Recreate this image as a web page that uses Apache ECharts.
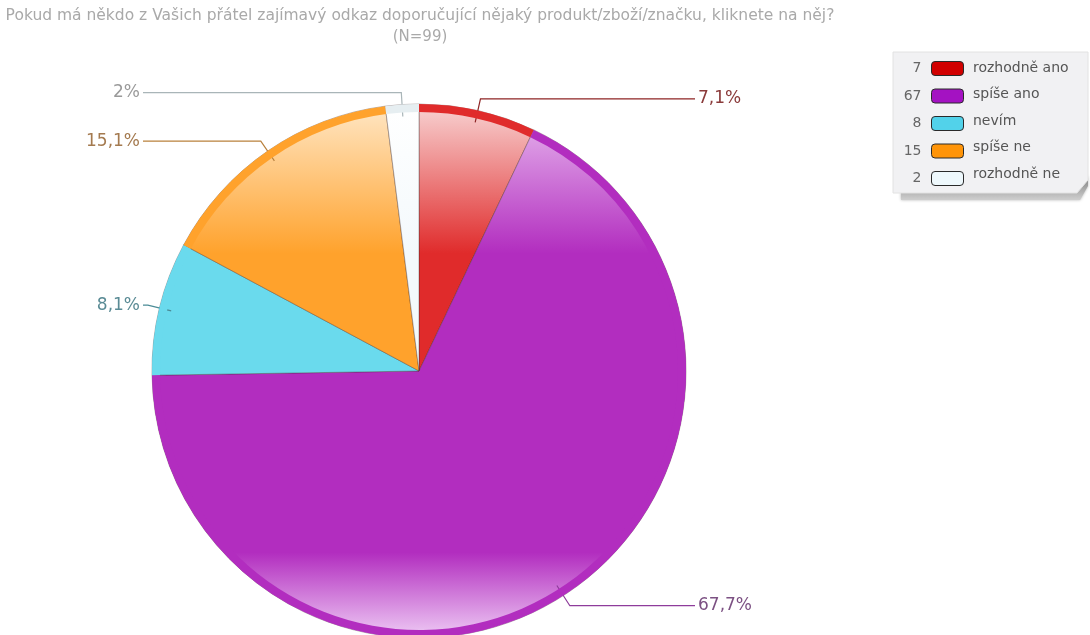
<!DOCTYPE html>
<html>
<head>
<meta charset="utf-8">
<style>
  html, body { margin: 0; padding: 0; background: #fff; }
  #chart { width: 1090px; height: 635px; }
</style>
<script src="https://cdn.jsdelivr.net/npm/echarts@6/dist/echarts.min.js"></script>
</head>
<body>
<div id="chart"></div>
<script>
// Survey answers (N = 99)
const categories = ['rozhodně ano', 'spíše ano', 'nevím', 'spíše ne', 'rozhodně ne'];
const counts = [7, 67, 8, 15, 2];
const percentLabels = ['7,1%', '67,7%', '8,1%', '15,1%', '2%'];

// Palette per answer: saturated, pale (glass highlight), legend swatch, label text, leader line
const fullColors  = ['#e02b2b', '#b22dbf', '#6adaed', '#ffa22c', '#f3f9fc'];
const paleColors  = ['#f8d3d3', '#e9bdf0', '#c9f1f8', '#ffe7c6', '#ffffff'];
const swatchColors = ['#d10000', '#a412c2', '#52d2ea', '#ff9408', '#eef8fc'];
const textColors  = ['#8a3a3a', '#7c5183', '#5a8b95', '#a47a4f', '#9a9a9a'];
const lineColors  = ['#8e2424', '#8e3c9b', '#4b8b96', '#b9813d', '#a9b5b8'];

const CX = 419, CY = 371, R = 267;
const RIM = 8;       // width of the saturated outer band
const INSET = 12;    // leader lines start a little inside the rim
const TAIL = 9;      // horizontal leader lines end at CX +/- (R + TAIL)

const chart = echarts.init(document.getElementById('chart'), null, { renderer: 'canvas' });

function glass(i) {
  return new echarts.graphic.LinearGradient(0, CY - R, 0, CY + R, [
    { offset: 0, color: paleColors[i] },
    { offset: 0.28, color: fullColors[i] },
    { offset: 0.84, color: fullColors[i] },
    { offset: 0.985, color: paleColors[i] },
    { offset: 1, color: paleColors[i] }
  ], true);
}

const mainData = categories.map((name, i) => ({
  name,
  value: counts[i],
  itemStyle: { color: glass(i) }
}));

const rimData = categories.map((name, i) => ({
  name,
  value: counts[i],
  itemStyle: { color: i === 4 ? '#e6eef1' : fullColors[i] },
  label: { color: textColors[i], formatter: percentLabels[i] },
  labelLine: { lineStyle: { color: lineColors[i] } }
}));

const font = 'DejaVu Sans, Verdana, sans-serif';

const option = {
  animation: false,
  backgroundColor: '#ffffff',
  title: {
    text: 'Pokud má někdo z Vašich přátel zajímavý odkaz doporučující nějaký produkt/zboží/značku, kliknete na něj?',
    subtext: '(N=99)',
    left: CX - 4,
    top: 2,
    textAlign: 'center',
    itemGap: 5,
    textStyle: { fontFamily: font, fontSize: 15.5, fontWeight: 'normal', color: '#a9a9a9', lineHeight: 17 },
    subtextStyle: { fontFamily: font, fontSize: 15, color: '#a9a9a9', lineHeight: 17 }
  },
  legend: [
    {
      // counts with the colour swatch to their right
      orient: 'vertical',
      align: 'right',
      right: 126,
      top: 61,
      padding: 0,
      itemWidth: 32,
      itemHeight: 14,
      itemGap: 12.5,
      icon: 'roundRect',
      selectedMode: false,
      data: categories.map((name, i) => ({
        name,
        itemStyle: { color: swatchColors[i], borderColor: '#2a2a2a', borderWidth: 1 }
      })),
      formatter: name => '{c|' + counts[categories.indexOf(name)] + '}',
      textStyle: {
        rich: { c: { fontFamily: font, fontSize: 14, color: '#666', lineHeight: 14, padding: [0, 5, 0, 0] } }
      }
    },
    {
      // answer names
      orient: 'vertical',
      align: 'left',
      left: 968,
      top: 61,
      padding: 0,
      itemWidth: 0,
      itemHeight: 14,
      itemGap: 12.5,
      icon: 'rect',
      selectedMode: false,
      data: categories.map(name => ({
        name,
        itemStyle: { color: 'transparent', borderWidth: 0 }
      })),
      textStyle: { fontFamily: font, fontSize: 14, color: '#555', lineHeight: 14 }
    }
  ],
  graphic: [
    {
      // drop shadow under the legend box
      type: 'polygon',
      z: 1,
      shape: { points: [[901, 186], [1078, 186], [1088, 176], [1088, 186], [1080, 200], [901, 200]] },
      style: {
        fill: new echarts.graphic.LinearGradient(0, 0, 0, 1, [
          { offset: 0, color: '#7e7e7e' },
          { offset: 1, color: '#cfcfcf' }
        ]),
        shadowBlur: 3,
        shadowColor: 'rgba(0,0,0,0.3)'
      }
    },
    {
      // legend box with a folded lower-right corner
      type: 'polygon',
      z: 2,
      shape: { points: [[893, 52], [1088, 52], [1088, 180], [1077, 193], [893, 193]] },
      style: { fill: '#f1f1f3', stroke: '#e2e2e2', lineWidth: 1 }
    }
  ],
  series: [
    {
      name: 'answers',
      type: 'pie',
      center: [CX, CY],
      radius: [0, R],
      startAngle: 90,
      clockwise: true,
      silent: true,
      z: 2,
      itemStyle: { borderColor: 'rgba(60,40,40,0.35)', borderWidth: 1 },
      label: { show: false },
      labelLine: { show: false },
      data: mainData
    },
    {
      // saturated outer band; it also carries the percentage labels
      name: 'rim',
      type: 'pie',
      center: [CX, CY],
      radius: [R - RIM, R],
      startAngle: 90,
      clockwise: true,
      avoidLabelOverlap: false,
      silent: true,
      z: 3,
      itemStyle: { borderWidth: 0 },
      label: {
        show: true,
        position: 'outside',
        fontFamily: font,
        fontSize: 17
      },
      labelLine: { show: true, length: 12, length2: 10, smooth: false, lineStyle: { width: 1.2 } },
      labelLayout: function (p) {
        const pts = p.labelLinePoints;
        if (!pts) return {};
        const dx = pts[1][0] - pts[0][0];
        const dy = pts[1][1] - pts[0][1];
        const len = Math.hypot(dx, dy) || 1;
        const start = [pts[0][0] - dx / len * INSET, pts[0][1] - dy / len * INSET];
        const elbow = pts[1];
        const isLeft = elbow[0] < CX;
        const endX = isLeft ? CX - R - TAIL : CX + R + TAIL;
        return {
          x: isLeft ? endX - 3 : endX + 3,
          y: elbow[1],
          align: isLeft ? 'right' : 'left',
          verticalAlign: 'middle',
          labelLinePoints: [start, elbow, [endX, elbow[1]]]
        };
      },
      data: rimData
    }
  ]
};

chart.setOption(option);
</script>
</body>
</html>
